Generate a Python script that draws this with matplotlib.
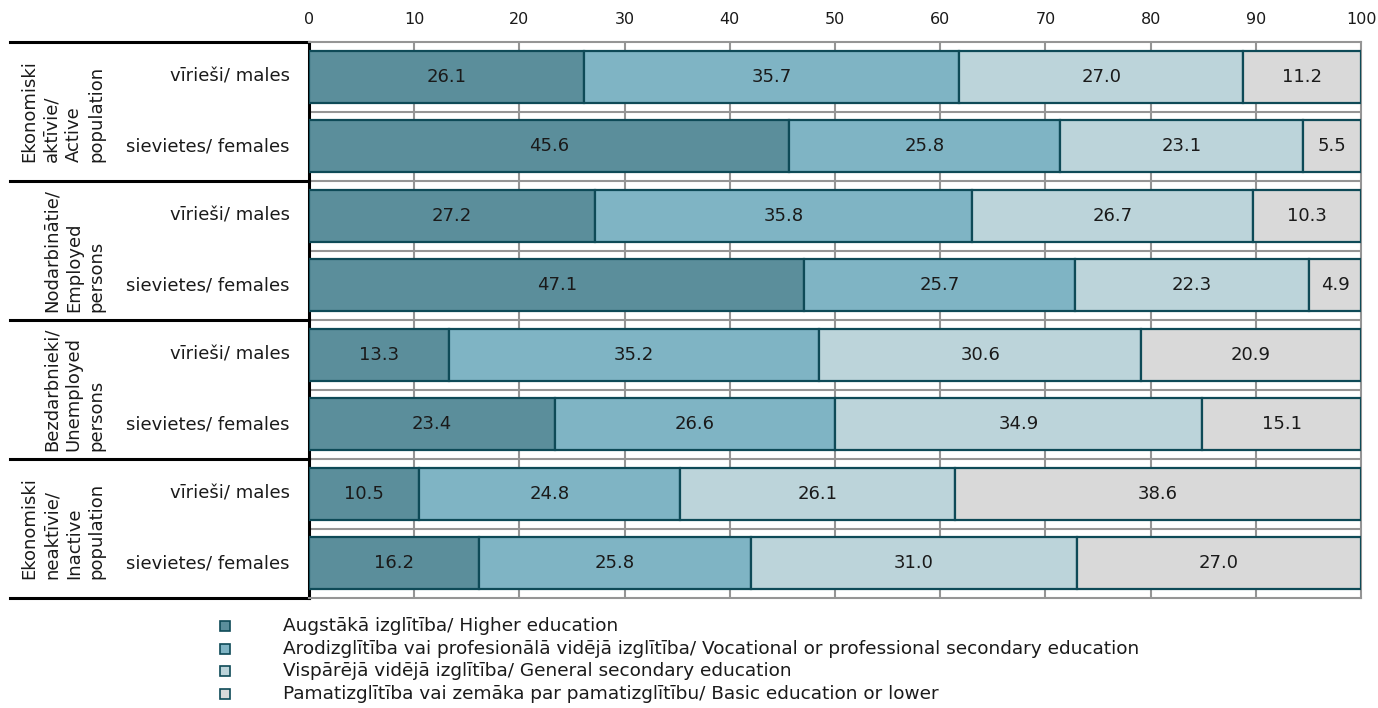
import matplotlib
matplotlib.use("Agg")
import matplotlib.pyplot as plt
from matplotlib.lines import Line2D
from matplotlib.transforms import blended_transform_factory
import numpy as np

groups = ["Ekonomiski\naktīvie/\nActive\npopulation",
          "Nodarbinātie/\nEmployed\npersons",
          "Bezdarbnieki/\nUnemployed\npersons",
          "Ekonomiski\nneaktīvie/\nInactive\npopulation"]
sexes = ["vīrieši/ males", "sievietes/ females"]
series_names = ["Augstākā izglītība/ Higher education",
                "Arodizglītība vai profesionālā vidējā izglītība/ Vocational or professional secondary education",
                "Vispārējā vidējā izglītība/ General secondary education",
                "Pamatizglītība vai zemāka par pamatizglītību/ Basic education or lower"]
higher = [26.1, 45.6, 27.2, 47.1, 13.3, 23.4, 10.5, 16.2]
vocational = [35.7, 25.8, 35.8, 25.7, 35.2, 26.6, 24.8, 25.8]
general = [27.0, 23.1, 26.7, 22.3, 30.6, 34.9, 26.1, 31.0]
basic = [11.2, 5.5, 10.3, 4.9, 20.9, 15.1, 38.6, 27.0]
xticks = [0, 10, 20, 30, 40, 50, 60, 70, 80, 90, 100]

colors = ["#5b8e9b", "#7fb4c4", "#bcd4da", "#d9d9d9"]
edge = "#0e4a57"
grid_c = "#959595"
txt_c = "#1a1a1a"

W, H = 1378, 708
fig = plt.figure(figsize=(W / 100, H / 100), dpi=100)
ax = fig.add_axes([309 / W, 1 - 598 / H, (1361 - 309) / W, (598 - 42) / H])

n = len(higher)
y = np.arange(n)
series = [higher, vocational, general, basic]
left = np.zeros(n)
for vals, c in zip(series, colors):
    vals = np.array(vals)
    ax.barh(y, vals, left=left, height=0.75, color=c, edgecolor=edge,
            linewidth=1.6, zorder=3)
    for yi, v, l in zip(y, vals, left):
        ax.text(l + v / 2, yi, f"{v:.1f}", ha="center", va="center",
                fontsize=13, color=txt_c, zorder=4)
    left = left + vals

ax.set_xlim(0, 100)
ax.set_ylim(n - 0.5, -0.5)
ax.xaxis.tick_top()
ax.set_xticks(xticks)
ax.set_xticklabels([str(t) for t in xticks], fontsize=11.5, color=txt_c)
ax.tick_params(axis="x", length=0, pad=11)
ax.set_yticks([])
for xv in xticks[1:-1]:
    ax.axvline(xv, color=grid_c, lw=1.5, zorder=1)
for yb in np.arange(0.5, n - 0.5, 1.0):
    ax.axhline(yb, color=grid_c, lw=1.5, zorder=1)
for s in ["top", "right", "bottom"]:
    ax.spines[s].set_color(grid_c)
    ax.spines[s].set_linewidth(1.5)
ax.spines["left"].set_color("black")
ax.spines["left"].set_linewidth(2.2)

tr = blended_transform_factory(fig.transFigure, ax.transData)
# sex labels
for i in range(n):
    ax.text(290 / W, i, sexes[i % 2], transform=tr, ha="right", va="center",
            fontsize=13, color=txt_c)
# group labels
for g, name in enumerate(groups):
    ax.text(105 / W, 2 * g + 0.5, name, transform=tr, rotation=90,
            ha="right", va="center", multialignment="left",
            fontsize=13, color=txt_c, linespacing=1.3)
# black separator lines
for yb in [-0.5, 1.5, 3.5, 5.5, 7.5]:
    ln = Line2D([10 / W, 309 / W], [yb, yb], transform=tr, color="black",
                lw=2.2, clip_on=False)
    ax.add_artist(ln)

# legend
leg_y = [626, 649, 671, 694]
for name, c, yy in zip(series_names, colors, leg_y):
    fig.add_artist(Line2D([225 / W], [1 - yy / H], marker="s", markersize=7,
                          markerfacecolor=c, markeredgecolor=edge,
                          markeredgewidth=1.2, linestyle="none",
                          transform=fig.transFigure))
    fig.text(283 / W, 1 - yy / H, name, ha="left", va="center", fontsize=13.3,
             color=txt_c)

fig.savefig("out.png", dpi=100)
